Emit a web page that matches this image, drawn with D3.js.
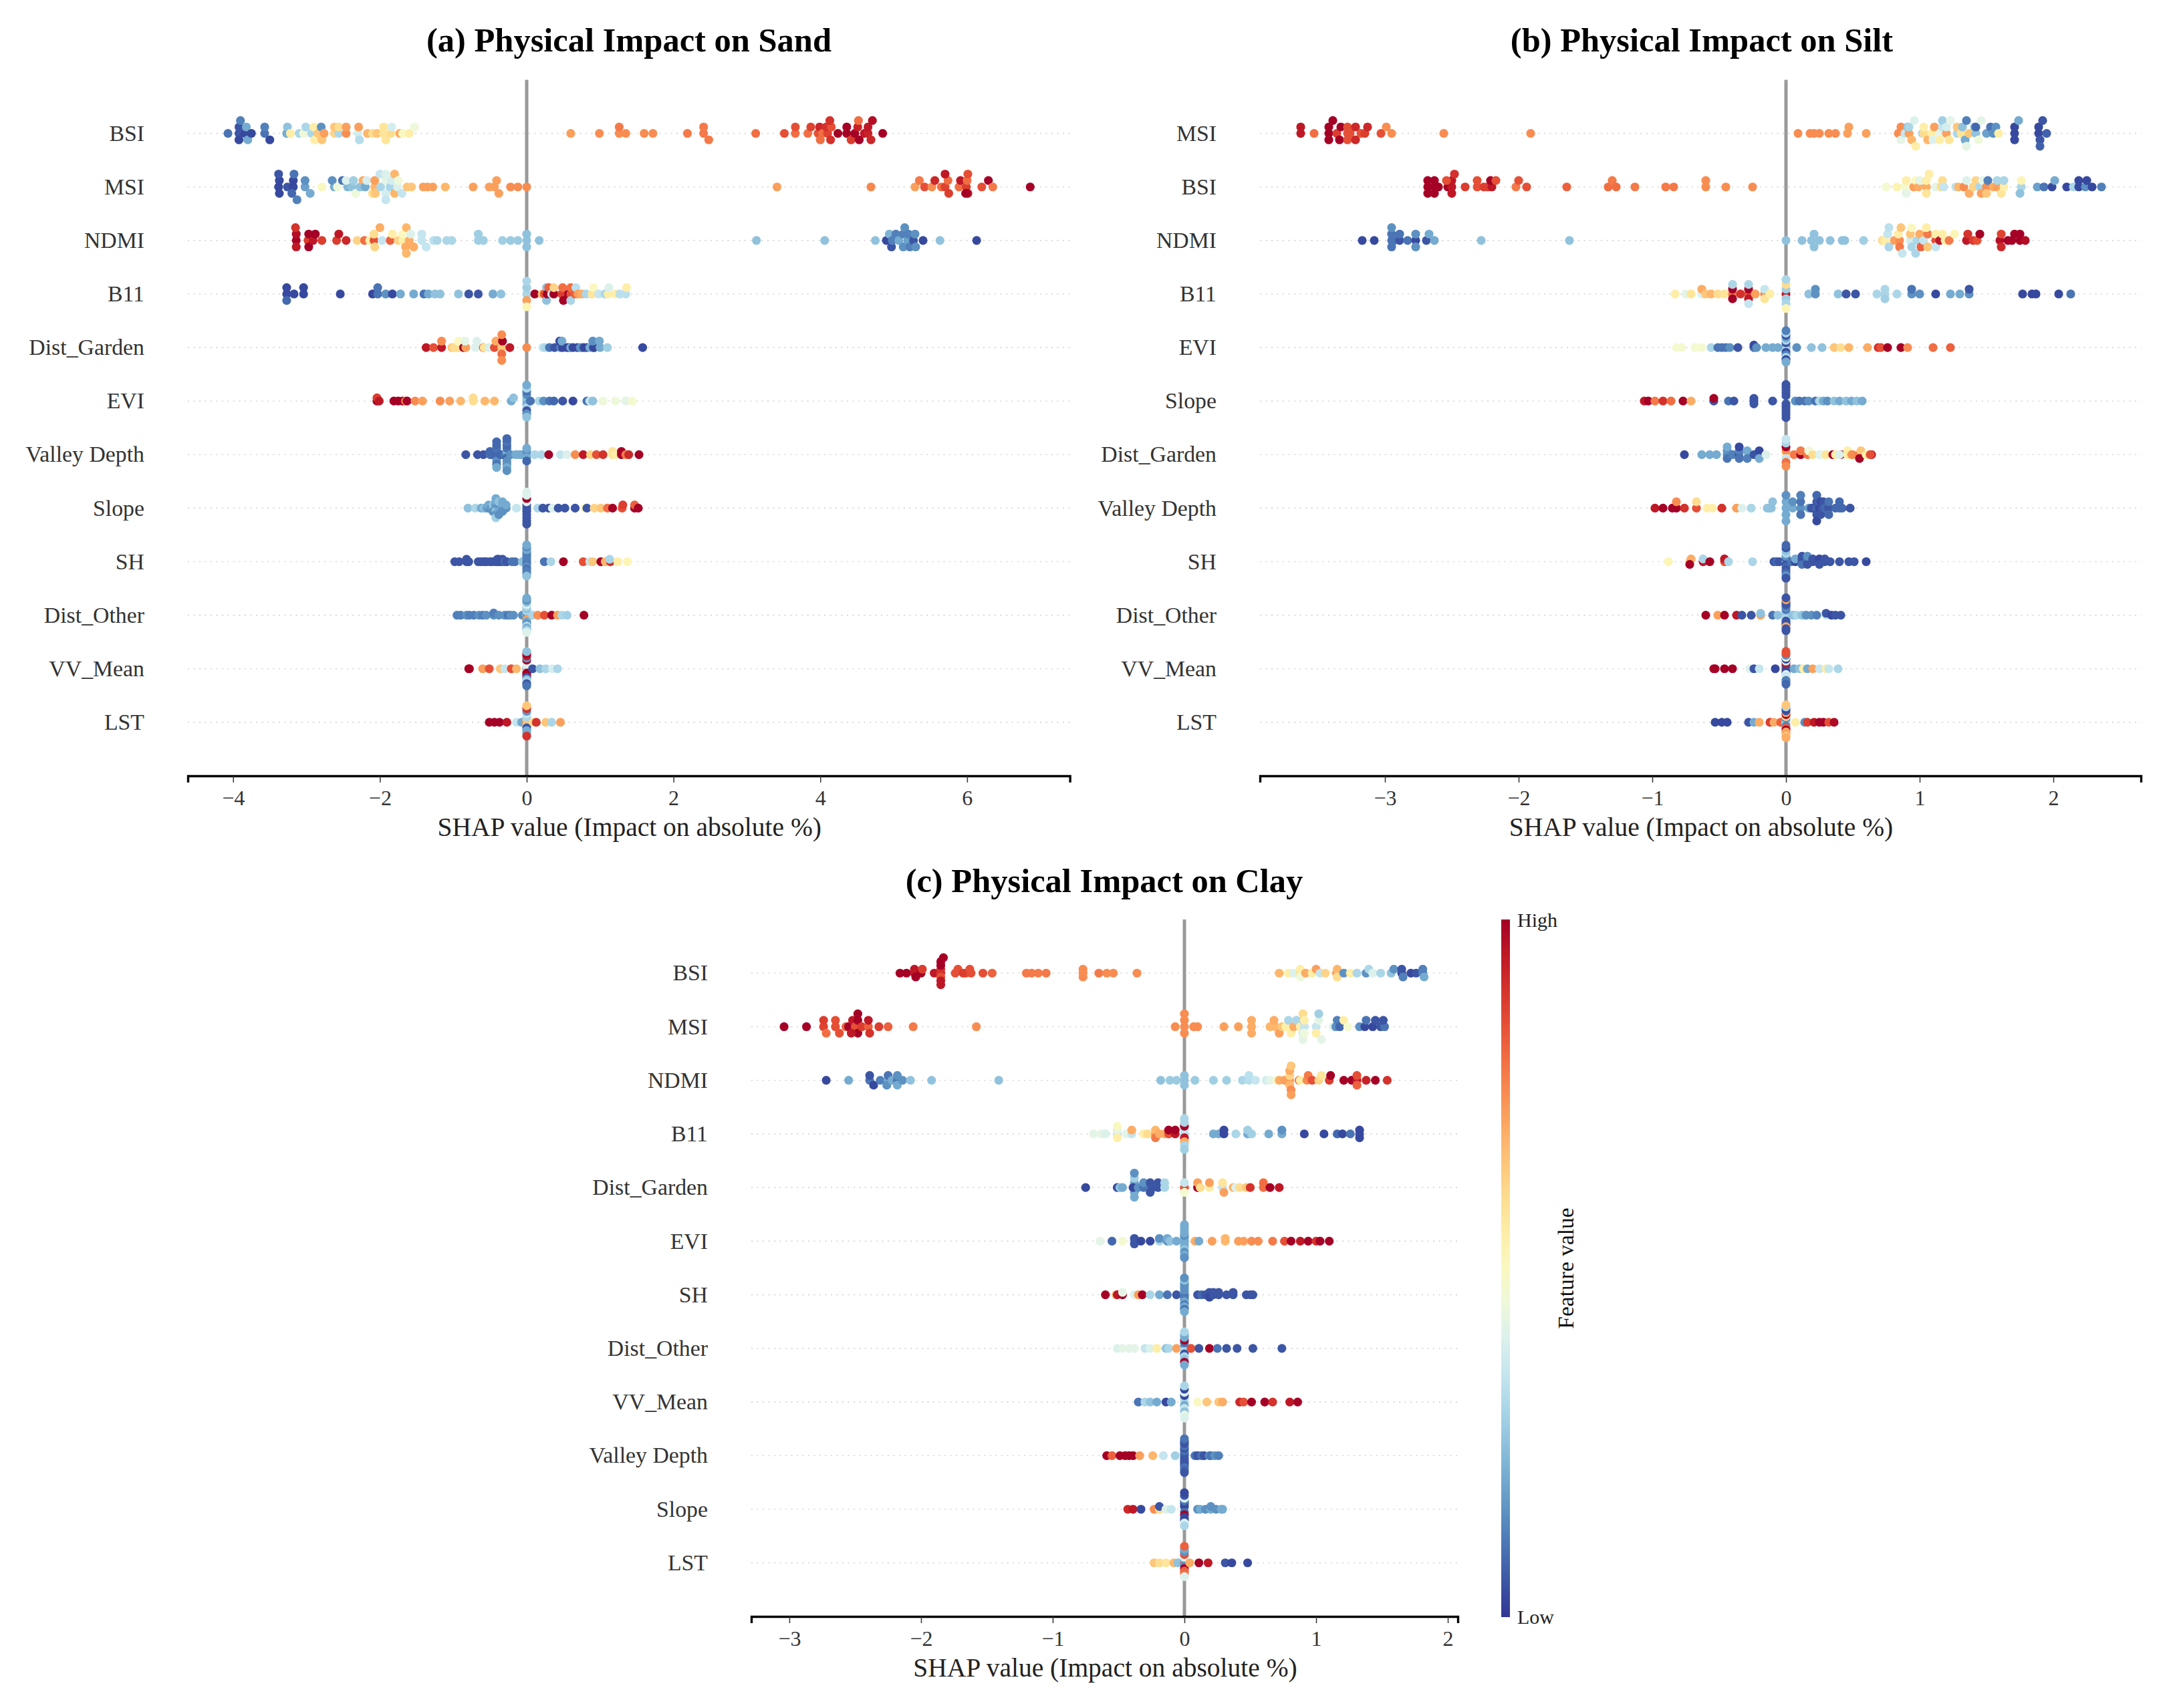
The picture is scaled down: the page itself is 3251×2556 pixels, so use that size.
<!DOCTYPE html>
<html lang="en">
<head>
<meta charset="UTF-8">
<title>SHAP summary: physical impact on sand, silt and clay</title>
<script src="https://d3js.org/d3.v7.min.js"></script>
<style>
  body { margin: 0; background: #fff; }
  text { font-family: "Liberation Serif", "Times New Roman", serif; }
</style>
</head>
<body>
<div id="chart"></div>
<script>
// every point is [SHAP value, feature value 0..1]

// (a) Sand
const sandBSI = [[-4.07,.1],[-3.92,.05],[-3.92,.05],[-3.92,.03],[-3.9,.12],[-3.84,.03],[-3.82,.2],[-3.8,.2],[-3.75,.03],[-3.57,.1],[-3.57,.12],[-3.5,.03],[-3.27,.2],[-3.26,.25],[-3.22,.55],[-3.1,.3],[-3.04,.45],[-3.01,.3],[-2.93,.3],[-2.9,.55],[-2.89,.55],[-2.84,.65],[-2.8,.15],[-2.79,.65],[-2.76,.72],[-2.62,.62],[-2.62,.65],[-2.56,.3],[-2.56,.6],[-2.46,.75],[-2.46,.72],[-2.3,.38],[-2.29,.72],[-2.28,.32],[-2.17,.68],[-2.1,.6],[-2.04,.65],[-1.95,.58],[-1.95,.58],[-1.92,.58],[-1.85,.6],[-1.84,.38],[-1.73,.7],[-1.69,.5],[-1.6,.55],[-1.53,.45],[.6,.72],[.99,.75],[1.26,.75],[1.26,.78],[1.35,.75],[1.6,.75],[1.72,.75],[2.19,.78],[2.41,.78],[2.41,.78],[2.48,.78],[3.12,.8],[3.51,.85],[3.66,.8],[3.66,.85],[3.83,.8],[3.87,.87],[3.97,.85],[3.99,.92],[4,.8],[4.03,.8],[4.1,.87],[4.08,.9],[4.15,.85],[4.14,.9],[4.13,.9],[4.24,1],[4.36,1],[4.36,1],[4.42,.88],[4.47,1],[4.51,.93],[4.53,1],[4.52,.8],[4.6,.95],[4.65,.93],[4.65,.95],[4.69,.92],[4.71,.97],[4.85,1]];
const sandMSI = [[-3.38,.03],[-3.37,.03],[-3.37,.03],[-3.38,.05],[-3.26,.05],[-3.18,.03],[-3.18,.03],[-3.2,.08],[-3.17,.1],[-3.13,.12],[-3.02,.18],[-3.02,.15],[-2.95,.2],[-2.79,.5],[-2.62,.2],[-2.65,.15],[-2.58,.45],[-2.51,.1],[-2.44,.22],[-2.46,.4],[-2.38,.25],[-2.36,.28],[-2.33,.45],[-2.27,.25],[-2.23,.7],[-2.2,.2],[-2.18,.38],[-2.1,.6],[-2.07,.68],[-2.07,.72],[-2.06,.65],[-2,.35],[-1.99,.3],[-1.92,.42],[-1.92,.38],[-1.92,.4],[-1.92,.35],[-1.86,.3],[-1.84,.38],[-1.8,.68],[-1.8,.68],[-1.76,.4],[-1.75,.45],[-1.7,.35],[-1.63,.65],[-1.57,.65],[-1.41,.72],[-1.35,.72],[-1.28,.72],[-1.11,.68],[-.73,.72],[-.51,.72],[-.44,.72],[-.41,.72],[-.38,.72],[-.22,.75],[-.12,.75],[0,.75],[3.41,.72],[4.69,.76],[5.29,.72],[5.35,.78],[5.42,.85],[5.52,.75],[5.56,.92],[5.65,.8],[5.7,.87],[5.74,.8],[5.75,.88],[5.7,.95],[5.89,.8],[5.91,.95],[5.99,.88],[6,.8],[6.01,.97],[5.98,1],[6.01,.85],[6.2,.85],[6.29,1],[6.35,.78],[6.86,1]];
const sandNDMI = [[-3.14,1],[-3.14,.97],[-3.14,.95],[-3.15,.9],[-2.98,.88],[-2.97,1],[-2.97,1],[-2.91,.95],[-2.88,1],[-2.79,.88],[-2.59,.88],[-2.56,.95],[-2.46,.92],[-2.31,.62],[-2.21,.8],[-2.14,.55],[-2.08,.85],[-2.08,.6],[-2.07,.62],[-2,.7],[-1.97,.35],[-1.86,.82],[-1.83,.55],[-1.75,.62],[-1.69,.55],[-1.69,.5],[-1.65,.7],[-1.64,.68],[-1.64,.68],[-1.6,.7],[-1.58,.4],[-1.54,.7],[-1.43,.35],[-1.43,.35],[-1.37,.35],[-1.27,.33],[-1.22,.3],[-1.09,.3],[-1.02,.3],[-.66,.28],[-.66,.28],[-.59,.28],[-.33,.28],[-.22,.27],[-.12,.27],[0,.25],[0,.25],[0,.25],[.17,.25],[3.13,.25],[4.06,.25],[4.75,.25],[4.9,.03],[4.94,.22],[4.97,.05],[4.98,.12],[5.03,.12],[5.07,.2],[5.13,.12],[5.13,.15],[5.15,.15],[5.19,.18],[5.2,.12],[5.22,.12],[5.27,.05],[5.29,.15],[5.3,.15],[5.4,.03],[5.63,.25],[6.13,.03]];
const sandB11 = [[-3.27,.03],[-3.27,.03],[-3.27,.08],[-3.17,.03],[-3.04,.03],[-3.04,.03],[-2.54,.03],[-2.1,.03],[-2.03,.1],[-2.03,.1],[-1.92,.15],[-1.83,.03],[-1.72,.2],[-1.54,.2],[-1.4,.1],[-1.34,.2],[-1.25,.25],[-1.18,.25],[-.93,.25],[-.79,.05],[-.66,.05],[-.46,.2],[-.35,.25],[0,.3],[0,.28],[0,.72],[0,.3],[0,.52],[.11,1],[.21,.65],[.24,.85],[.27,.25],[.27,.25],[.28,1],[.3,.82],[.34,.35],[.37,1],[.37,.62],[.48,.88],[.49,.8],[.5,1],[.57,1],[.6,.85],[.6,.8],[.6,.3],[.66,.82],[.67,.33],[.7,.72],[.75,.7],[.81,.3],[.89,.58],[.91,.5],[.98,.35],[1.07,.3],[1.11,.55],[1.12,.4],[1.21,.55],[1.27,.33],[1.35,.33],[1.36,.55]];
const sandDistGarden = [[-1.37,.95],[-1.27,.85],[-1.16,.95],[-1.16,.75],[-1.02,.65],[-.99,.6],[-.95,.6],[-.92,.6],[-.93,.5],[-.86,1],[-.83,.72],[-.84,.42],[-.7,.4],[-.68,.4],[-.59,.85],[-.58,.58],[-.51,.38],[-.47,.4],[-.44,.85],[-.42,.7],[-.34,.65],[-.33,1],[-.34,.8],[-.34,.75],[-.34,.75],[-.23,.95],[0,.75],[.22,.35],[.25,.3],[.31,.1],[.38,.05],[.46,.12],[.45,.03],[.49,.03],[.48,.2],[.55,.03],[.58,.03],[.6,.2],[.69,.03],[.63,.03],[.75,.12],[.73,.15],[.78,.03],[.82,.03],[.86,.2],[.92,.03],[.91,.03],[.9,.15],[1,.2],[.99,.2],[1.1,.28],[1.58,.03]];
const sandEVI = [[-2.04,1],[-2.04,.88],[-2.01,.95],[-1.81,1],[-1.75,1],[-1.69,1],[-1.65,.75],[-1.63,1],[-1.52,.75],[-1.42,.72],[-1.18,.75],[-1.05,.72],[-.9,.68],[-.73,.6],[-.73,.6],[-.57,.68],[-.44,.68],[-.21,.2],[-.18,.25],[0,.25],[0,.25],[0,.2],[0,.15],[0,.3],[0,.1],[0,.05],[0,.3],[0,.15],[0,.2],[0,.25],[.05,.1],[.17,.3],[.23,.15],[.31,.1],[.37,.08],[.49,.05],[.63,.03],[.82,.1],[.86,.35],[.9,.25],[1.04,.45],[1.21,.45],[1.35,.42],[1.44,.47]];
const sandValley = [[-.83,.05],[-.67,.05],[-.59,.05],[-.5,.1],[-.5,.08],[-.47,.08],[-.44,.08],[-.41,.08],[-.41,.08],[-.41,.08],[-.41,.1],[-.41,.15],[-.41,.08],[-.41,.1],[-.41,.08],[-.41,.2],[-.36,.08],[-.33,.08],[-.3,.1],[-.27,.15],[-.27,.2],[-.27,.08],[-.27,.1],[-.27,.15],[-.27,.08],[-.27,.15],[-.27,.1],[-.27,.2],[-.27,.08],[-.27,.15],[-.22,.15],[-.15,.2],[-.1,.2],[-.07,.2],[0,.2],[0,.15],[0,.2],[0,.2],[0,.08],[.11,.3],[.2,.3],[.3,1],[.46,.35],[.55,.4],[.66,.75],[.77,.95],[.87,.62],[.95,.85],[1.04,.9],[1.17,.58],[1.17,.58],[1.21,.55],[1.29,1],[1.29,1],[1.35,.78],[1.39,.92],[1.53,1]];
const sandSlope = [[-.8,.25],[-.7,.3],[-.62,.2],[-.58,.25],[-.55,.2],[-.52,.15],[-.52,.2],[-.48,.15],[-.46,.2],[-.46,.25],[-.46,.15],[-.42,.2],[-.42,.15],[-.42,.25],[-.42,.2],[-.42,.15],[-.42,.2],[-.42,.28],[-.38,.2],[-.38,.15],[-.38,.2],[-.38,.25],[-.38,.15],[-.33,.15],[-.33,.2],[-.33,.15],[-.33,.2],[-.28,.15],[-.28,.2],[-.14,.35],[0,.05],[0,.05],[0,.05],[0,.4],[0,.05],[0,1],[0,.05],[0,.4],[0,.05],[0,.4],[0,.05],[.15,.3],[.22,.05],[.3,.05],[.35,.4],[.43,.05],[.52,.05],[.66,.05],[.79,.5],[.82,.05],[.92,.62],[1.01,.65],[1.1,.8],[1.17,1],[1.3,.85],[1.31,.88],[1.47,1],[1.47,.82],[1.52,1]];
const sandSH = [[-.98,.05],[-.92,.05],[-.82,.05],[-.82,.05],[-.79,.05],[-.66,.05],[-.62,.05],[-.58,.05],[-.55,.05],[-.5,.05],[-.47,.05],[-.42,.05],[-.4,.05],[-.4,.05],[-.38,.05],[-.38,.05],[-.35,.05],[-.33,.05],[-.33,.05],[-.3,.08],[-.27,.05],[-.2,.1],[-.16,.1],[-.06,.25],[0,.15],[0,.12],[0,.1],[0,.12],[0,.15],[0,.12],[0,.1],[0,.12],[0,.12],[0,.2],[0,.12],[0,.15],[0,.25],[0,.2],[.24,.1],[.33,.3],[.5,1],[.77,.85],[.86,.35],[.9,.65],[1.01,1],[1.07,.68],[1.14,.9],[1.13,.3],[1.24,.55],[1.37,.52]];
const sandDistOther = [[-.95,.12],[-.9,.12],[-.82,.15],[-.78,.12],[-.72,.12],[-.65,.15],[-.6,.12],[-.55,.15],[-.45,.15],[-.45,.12],[-.38,.15],[-.3,.15],[-.25,.1],[-.22,.15],[-.18,.15],[-.06,.15],[0,.3],[0,.2],[0,.15],[0,.3],[0,.72],[0,.25],[0,.2],[0,.3],[0,.15],[0,.4],[0,.3],[0,.25],[0,.2],[0,.15],[0,.3],[0,.2],[0,.4],[.08,.3],[.15,.75],[.24,.85],[.34,1],[.42,.72],[.48,.3],[.55,.28],[.78,1]];
const sandVV = [[-.79,1],[-.78,1],[-.6,.72],[-.51,.85],[-.36,.65],[-.3,.35],[-.21,.85],[-.14,.68],[0,.95],[0,.3],[0,.35],[0,.4],[0,1],[0,.4],[0,1],[0,1],[0,.05],[0,.15],[0,.25],[0,.95],[0,.3],[0,1],[0,.05],[0,.25],[0,.1],[.08,.05],[.18,.25],[.26,.3],[.35,.38],[.42,.3]];
const sandLST = [[-.51,1],[-.44,1],[-.37,1],[-.27,.95],[-.14,.35],[-.07,.2],[0,.75],[0,.65],[0,.65],[0,.3],[0,.05],[0,.35],[0,.2],[0,.15],[0,.2],[0,.9],[0,.9],[0,.65],[.09,.6],[.13,.9],[.26,.65],[.34,.3],[.46,.72]];

// (b) Silt
const siltMSI = [[-3.63,.95],[-3.63,.95],[-3.53,.8],[-3.42,1],[-3.42,1],[-3.42,1],[-3.39,1],[-3.36,.88],[-3.33,1],[-3.34,1],[-3.28,.85],[-3.28,.85],[-3.28,.85],[-3.26,.85],[-3.22,.92],[-3.22,.92],[-3.18,.85],[-3.15,.88],[-3.13,.92],[-3.03,.85],[-2.99,.75],[-2.95,.75],[-2.56,.75],[-1.91,.75],[.09,.75],[.18,.75],[.21,.75],[.25,.75],[.32,.75],[.37,.75],[.46,.72],[.47,.72],[.6,.72],[.84,.75],[.86,.75],[.86,.42],[.89,.35],[.91,.25],[.92,.72],[.92,.3],[.94,.68],[.96,.4],[.97,.55],[1.02,.3],[1.03,.6],[1.03,.55],[1.06,.68],[1.09,.55],[1.11,.72],[1.1,.4],[1.15,.42],[1.17,.35],[1.15,.55],[1.17,.28],[1.2,.72],[1.2,.38],[1.22,.58],[1.23,.42],[1.28,.3],[1.28,.65],[1.31,.58],[1.32,.25],[1.34,.2],[1.35,.12],[1.37,.65],[1.35,.42],[1.41,.25],[1.42,.25],[1.42,.08],[1.44,.45],[1.46,.42],[1.5,.18],[1.53,.1],[1.55,.15],[1.57,.15],[1.59,.55],[1.71,.03],[1.71,.03],[1.71,.03],[1.74,.2],[1.89,.03],[1.89,.03],[1.9,.05],[1.92,.05],[1.95,.07],[1.9,.07]];
const siltBSI = [[-2.68,1],[-2.68,1],[-2.68,1],[-2.63,1],[-2.63,1],[-2.63,1],[-2.6,1],[-2.53,1],[-2.5,.95],[-2.5,.95],[-2.5,.95],[-2.54,.85],[-2.48,.9],[-2.4,.88],[-2.31,.85],[-2.31,.85],[-2.26,.88],[-2.23,.88],[-2.2,.95],[-2.21,1],[-2.17,.85],[-2.02,.78],[-2,.85],[-1.94,.85],[-1.64,.82],[-1.33,.8],[-1.3,.78],[-1.27,.8],[-1.13,.78],[-.9,.78],[-.84,.78],[-.6,.75],[-.6,.75],[-.45,.75],[-.25,.75],[.75,.47],[.83,.53],[.89,.47],[.9,.55],[.9,.42],[.955,.72],[.97,.5],[.99,.7],[1,.42],[1.05,.7],[1.05,.55],[1.05,.58],[1.07,.55],[1.12,.42],[1.16,.6],[1.17,.6],[1.18,.35],[1.27,.33],[1.29,.68],[1.33,.75],[1.35,.4],[1.37,.7],[1.4,.62],[1.42,.62],[1.45,.3],[1.47,.42],[1.46,.72],[1.5,.75],[1.51,.12],[1.5,.65],[1.55,.7],[1.58,.72],[1.58,.3],[1.61,.58],[1.63,.55],[1.63,.3],[1.76,.3],[1.76,.52],[1.75,.25],[1.88,.18],[1.93,.1],[1.99,.03],[2.01,.2],[2.1,.03],[2.15,.3],[2.19,.03],[2.19,.03],[2.24,.15],[2.25,.03],[2.29,.03],[2.36,.12]];
const siltNDMI = [[-3.17,.03],[-3.08,.03],[-2.95,.1],[-2.95,.1],[-2.95,.1],[-2.95,.15],[-2.93,.1],[-2.89,.05],[-2.89,.1],[-2.83,.1],[-2.77,.03],[-2.77,.15],[-2.77,.15],[-2.69,.05],[-2.67,.2],[-2.63,.2],[-2.28,.25],[-1.62,.25],[0,.25],[.12,.25],[.19,.25],[.21,.25],[.21,.25],[.25,.25],[.33,.25],[.42,.25],[.44,.25],[.58,.28],[.72,.6],[.74,.55],[.76,.35],[.77,.3],[.77,.33],[.81,.72],[.85,.75],[.84,.55],[.85,.78],[.86,.65],[.87,.35],[.93,.38],[.93,.65],[.94,.3],[.94,.5],[.97,.3],[.98,.3],[1,.7],[1.01,.82],[1.03,.35],[1.06,.78],[1.06,.65],[1.05,.55],[1.12,.85],[1.12,.55],[1.12,.35],[1.15,.95],[1.17,.55],[1.19,.55],[1.22,.78],[1.26,.52],[1.35,.95],[1.36,.9],[1.4,.88],[1.43,.85],[1.45,1],[1.6,.97],[1.61,.87],[1.61,.92],[1.66,1],[1.69,1],[1.71,1],[1.75,1],[1.75,1],[1.79,.97]];
const siltB11 = [[-.83,.55],[-.75,.42],[-.71,.58],[-.63,.4],[-.63,.7],[-.6,.65],[-.56,.68],[-.51,.6],[-.46,.58],[-.4,.78],[-.4,1],[-.4,1],[-.4,.3],[-.34,.9],[-.28,.85],[-.28,1],[-.28,.95],[-.28,.3],[-.28,.35],[-.23,.72],[-.16,.75],[-.16,.35],[-.16,.58],[-.12,.55],[0,.95],[0,.28],[0,.28],[0,.6],[0,.3],[0,.3],[0,.52],[.17,.25],[.22,.15],[.22,.15],[.39,.25],[.45,.05],[.52,.05],[.68,.3],[.74,.3],[.74,.3],[.74,.28],[.83,.3],[.94,.15],[.94,.1],[1,.15],[1.12,.03],[1.23,.2],[1.3,.2],[1.37,.15],[1.37,.05],[1.77,.03],[1.84,.03],[1.87,.03],[2.04,.03],[2.13,.1]];
const siltEVI = [[-.82,.47],[-.78,.47],[-.68,.47],[-.63,.47],[-.56,.3],[-.51,.1],[-.48,.1],[-.45,.1],[-.42,.15],[-.36,.05],[-.24,.1],[-.24,.03],[-.22,.15],[-.15,.2],[-.1,.2],[-.06,.2],[0,.12],[0,.2],[0,.3],[0,.05],[0,.03],[0,.3],[0,.12],[0,.2],[0,.3],[0,.05],[0,.03],[0,.3],[0,.2],[0,.12],[.08,.15],[.19,.25],[.27,.25],[.36,.65],[.41,.6],[.47,.68],[.61,.7],[.69,.9],[.71,.85],[.76,1],[.86,1],[.91,.75],[1.1,.8],[1.23,.82]];
const siltSlope = [[-1.06,.95],[-1.03,1],[-.98,.78],[-.92,.9],[-.86,.8],[-.77,1],[-.71,.7],[-.54,.05],[-.54,1],[-.43,.1],[-.39,.05],[-.24,.05],[-.24,.05],[-.24,.05],[-.1,.05],[0,.45],[0,.4],[0,.05],[0,.05],[0,.05],[0,.05],[0,.05],[0,.05],[0,.05],[0,.05],[0,.05],[0,.05],[0,.05],[.07,.15],[.1,.1],[.14,.1],[.17,.15],[.22,.1],[.25,.3],[.28,.2],[.31,.15],[.36,.25],[.4,.2],[.45,.25],[.49,.2],[.53,.25],[.57,.2]];
const siltDistGarden = [[-.76,.03],[-.63,.2],[-.57,.2],[-.52,.2],[-.44,.15],[-.44,.15],[-.44,.1],[-.44,.2],[-.4,.12],[-.35,.05],[-.35,.12],[-.35,.1],[-.35,.03],[-.29,.35],[-.29,.2],[-.29,.12],[-.24,.05],[-.2,.05],[-.2,.03],[-.2,.2],[-.15,.4],[0,.55],[0,.75],[0,.35],[0,1],[0,.8],[0,.3],[0,.75],[0,.35],[.06,.78],[.11,1],[.11,.78],[.16,.78],[.17,.45],[.2,.6],[.25,.4],[.28,.42],[.3,.58],[.35,1],[.37,.55],[.41,1],[.4,.4],[.46,.55],[.46,.55],[.49,.72],[.5,.75],[.55,.78],[.56,.65],[.55,1],[.6,.55],[.64,.95],[.63,.85]];
const siltValley = [[-.98,.95],[-.92,1],[-.85,1],[-.82,1],[-.82,.75],[-.76,.9],[-.67,.85],[-.67,.6],[-.59,.55],[-.55,.55],[-.48,.9],[-.37,.72],[-.33,.4],[-.26,.3],[-.14,.25],[-.12,.25],[-.11,.25],[-.1,.25],[0,.2],[0,.2],[0,.2],[0,.15],[0,.2],[.05,.2],[.05,.15],[.11,.15],[.11,.1],[.11,.1],[.11,.12],[.17,.18],[.19,.05],[.2,.05],[.23,.08],[.23,.05],[.23,.05],[.23,.08],[.23,.03],[.25,.03],[.25,.08],[.26,.03],[.26,.03],[.26,.05],[.27,.05],[.28,.05],[.29,.08],[.32,.05],[.32,.1],[.32,.08],[.37,.08],[.4,.08],[.4,.08],[.42,.08],[.48,.05]];
const siltSH = [[-.88,.52],[-.72,.65],[-.71,.7],[-.72,1],[-.62,.95],[-.62,.3],[-.57,1],[-.46,.85],[-.46,.95],[-.43,.3],[-.25,.3],[-.09,.05],[-.07,.08],[-.05,.05],[0,.25],[0,.08],[0,.05],[0,.15],[0,.08],[0,.3],[0,.05],[0,.25],[0,.08],[0,.05],[0,.15],[0,.08],[0,.05],[.04,.1],[.07,.03],[.07,.2],[.12,.05],[.12,.05],[.12,.1],[.12,.05],[.16,.05],[.16,.1],[.16,.05],[.16,.15],[.2,.05],[.2,.05],[.25,.05],[.25,.03],[.25,.05],[.29,.05],[.29,.05],[.33,.05],[.4,.05],[.47,.05],[.51,.05],[.6,.03]];
const siltDistOther = [[-.6,1],[-.51,.72],[-.46,1],[-.37,.95],[-.33,.05],[-.26,.05],[-.19,.72],[-.19,.25],[-.1,.1],[-.06,.25],[0,.28],[0,.3],[0,.3],[0,.25],[0,.3],[0,.1],[0,.05],[0,.15],[0,.05],[0,.08],[0,.05],[0,.05],[0,.7],[0,.05],[0,.05],[0,.72],[0,.05],[0,.05],[.05,.25],[.07,.25],[.08,.3],[.12,.25],[.15,.15],[.19,.15],[.23,.12],[.3,.35],[.3,.05],[.34,.03],[.37,.05],[.41,.05]];
const siltVV = [[-.54,1],[-.53,1],[-.46,1],[-.4,1],[-.27,.4],[-.24,.05],[-.2,.35],[-.08,.03],[0,.95],[0,.88],[0,.03],[0,.03],[0,.03],[0,.95],[0,.4],[0,.38],[0,.35],[0,.03],[0,.38],[0,.45],[0,.12],[0,.15],[0,.12],[0,.85],[0,.08],[0,.85],[.06,.2],[.1,.25],[.13,.55],[.16,.2],[.2,.72],[.25,.35],[.3,.55],[.32,.35],[.39,.3]];
const siltLST = [[-.53,.03],[-.48,.03],[-.44,.03],[-.28,.05],[-.24,.2],[-.2,.7],[-.12,.88],[-.09,.7],[-.04,.82],[0,.6],[0,.3],[0,.3],[0,.15],[0,.12],[0,.62],[0,.82],[0,1],[0,1],[0,.72],[0,.7],[0,.05],[0,.72],[0,.03],[0,.65],[0,.3],[0,.7],[0,.65],[.07,.55],[.14,.15],[.16,.88],[.21,.95],[.25,1],[.28,1],[.32,.85],[.36,.98]];

// (c) Clay
const clayBSI = [[-2.16,1],[-2.11,1],[-2.05,.95],[-2.05,.95],[-2.04,1],[-2,1],[-1.99,.88],[-1.9,.95],[-1.85,.9],[-1.85,.9],[-1.85,.85],[-1.85,1],[-1.85,.95],[-1.85,1],[-1.85,.95],[-1.83,1],[-1.74,.85],[-1.72,.85],[-1.66,.85],[-1.68,.88],[-1.62,.85],[-1.63,.85],[-1.53,.85],[-1.46,.82],[-1.2,.78],[-1.16,.78],[-1.11,.78],[-1.05,.78],[-.77,.75],[-.77,.75],[-.77,.75],[-.65,.78],[-.59,.75],[-.54,.75],[-.36,.75],[.72,.68],[.79,.55],[.83,.4],[.88,.58],[.88,.55],[.88,.45],[.92,.7],[.97,.55],[1,.72],[1.03,.35],[1.07,.62],[1.155,.72],[1.16,.68],[1.16,.6],[1.21,.15],[1.26,.55],[1.31,.3],[1.38,.15],[1.4,.3],[1.43,.4],[1.49,.3],[1.57,.25],[1.59,.15],[1.65,.03],[1.65,.05],[1.66,.12],[1.72,.03],[1.76,.05],[1.81,.12],[1.81,.12],[1.82,.2]];
const clayMSI = [[-3.04,1],[-2.87,1],[-2.74,.87],[-2.74,.88],[-2.72,.8],[-2.65,.85],[-2.65,.85],[-2.62,.85],[-2.57,.82],[-2.55,1],[-2.52,.95],[-2.5,.85],[-2.48,1],[-2.48,1],[-2.48,1],[-2.53,.95],[-2.45,.88],[-2.4,.82],[-2.4,.95],[-2.39,.9],[-2.32,.88],[-2.25,.82],[-2.06,.78],[-1.58,.75],[-.07,.75],[0,.75],[0,.75],[0,.75],[0,.75],[.07,.75],[.1,.75],[.3,.72],[.41,.72],[.51,.7],[.51,.7],[.51,.7],[.65,.68],[.69,.68],[.68,.7],[.72,.72],[.74,.65],[.77,.55],[.79,.3],[.81,.55],[.83,.7],[.85,.3],[.88,.55],[.9,.3],[.9,.38],[.9,.6],[.9,.42],[.91,.35],[.91,.55],[.91,.45],[1,.35],[1.02,.42],[1,.55],[1.02,.28],[1.04,.42],[1.13,.4],[1.15,.15],[1.16,.12],[1.18,.08],[1.21,.55],[1.24,.47],[1.33,.15],[1.37,.03],[1.38,.1],[1.43,.03],[1.45,.05],[1.49,.05],[1.52,.1],[1.51,.05]];
const clayNDMI = [[-2.72,.03],[-2.55,.2],[-2.39,.1],[-2.39,.05],[-2.36,.03],[-2.31,.12],[-2.25,.2],[-2.25,.1],[-2.26,.15],[-2.22,.2],[-2.18,.1],[-2.18,.15],[-2.18,.2],[-2.14,.15],[-2.08,.25],[-1.92,.25],[-1.41,.25],[-.18,.25],[-.11,.27],[-.06,.27],[0,.25],[0,.25],[0,.25],[.08,.27],[.22,.28],[.32,.28],[.44,.3],[.49,.32],[.49,.33],[.54,.35],[.62,.38],[.65,.42],[.7,.48],[.72,.7],[.76,.72],[.8,.72],[.8,.62],[.8,.68],[.8,.7],[.81,.75],[.81,.65],[.81,.72],[.87,.78],[.88,.55],[.93,.75],[.94,.78],[.97,.85],[1.02,.62],[1.04,.58],[1.1,.88],[1.11,1],[1.21,1],[1.27,1],[1.31,.95],[1.31,.85],[1.31,.82],[1.38,.93],[1.45,1],[1.54,.9]];
const clayB11 = [[-.69,.42],[-.63,.42],[-.6,.4],[-.51,.35],[-.51,.42],[-.51,.55],[-.51,.5],[-.44,.42],[-.4,.35],[-.4,.7],[-.31,.55],[-.28,.6],[-.22,.72],[-.22,.68],[-.22,.78],[-.19,.7],[-.15,.7],[-.12,.85],[-.12,1],[-.07,.95],[-.07,1],[0,.3],[0,.35],[0,.95],[0,1],[0,.7],[0,.3],[0,.3],[0,.3],[0,.28],[.22,.2],[.26,.2],[.3,.03],[.3,.03],[.39,.3],[.48,.2],[.48,.28],[.51,.28],[.64,.2],[.74,.2],[.74,.15],[.91,.03],[1.06,.03],[1.16,.08],[1.2,.03],[1.26,.1],[1.33,.05],[1.33,.03],[1.33,.03]];
const clayDistGarden = [[-.75,.03],[-.51,.03],[-.49,.25],[-.47,.2],[-.38,.2],[-.38,.2],[-.38,.2],[-.38,.28],[-.38,.2],[-.38,.15],[-.39,.03],[-.35,.15],[-.31,.1],[-.31,.15],[-.26,.1],[-.26,.05],[-.26,.05],[-.24,.05],[-.2,.05],[-.2,.05],[-.15,.3],[-.15,.3],[0,.85],[0,.35],[0,.47],[.1,1],[.1,.72],[.12,.6],[.19,.55],[.19,.72],[.29,.35],[.29,.58],[.3,.72],[.37,.68],[.39,.4],[.42,.6],[.47,.65],[.5,.9],[.6,.8],[.6,.8],[.65,1],[.72,.95]];
const clayEVI = [[-.64,.42],[-.55,.08],[-.47,.47],[-.38,.2],[-.38,.05],[-.38,.05],[-.33,.03],[-.26,.03],[-.19,.3],[-.19,.15],[-.13,.15],[-.13,.2],[-.11,.25],[-.06,.2],[0,.2],[0,.2],[0,.2],[0,.15],[0,.2],[0,.2],[0,.25],[0,.2],[0,.15],[0,.2],[0,.2],[0,.2],[0,.15],[.08,.7],[.11,.2],[.21,.72],[.31,.68],[.31,.68],[.41,.72],[.45,.72],[.51,.75],[.56,.75],[.67,.78],[.76,.85],[.81,1],[.88,.95],[.94,1],[1,.9],[1.03,1],[1.1,1]];
const claySH = [[-.6,1],[-.52,.65],[-.51,.95],[-.47,1],[-.47,.42],[-.38,.4],[-.35,.72],[-.32,1],[-.26,.3],[-.19,.2],[-.13,.1],[-.06,.05],[0,.15],[0,.15],[0,.1],[0,.15],[0,.12],[0,.15],[0,.2],[0,.15],[0,.12],[0,.15],[0,.2],[0,.25],[0,.1],[0,.15],[0,.2],[.1,.05],[.13,.08],[.16,.05],[.19,.05],[.19,.05],[.19,.03],[.22,.05],[.22,.05],[.26,.05],[.26,.05],[.32,.05],[.37,.05],[.37,.05],[.47,.05],[.5,.05],[.52,.05]];
const clayDistOther = [[-.51,.4],[-.47,.42],[-.42,.42],[-.38,.42],[-.3,.35],[-.26,.4],[-.21,.55],[-.14,.25],[-.12,.3],[-.06,.72],[0,.4],[0,.2],[0,.3],[0,.1],[0,.05],[0,1],[0,.3],[0,.2],[0,.25],[0,.2],[0,1],[0,.3],[0,.2],[.05,.85],[.11,.05],[.19,1],[.25,.1],[.32,.05],[.4,.05],[.52,.05],[.74,.05]];
const clayVV = [[-.35,.1],[-.3,.3],[-.26,.25],[-.21,.2],[-.14,.03],[-.1,.2],[0,.4],[0,.3],[0,.2],[0,.03],[0,.35],[0,.4],[0,.25],[0,.03],[0,.42],[0,.3],[0,.4],[.1,.5],[.17,.65],[.26,.65],[.29,.7],[.42,.92],[.45,.85],[.51,1],[.61,1],[.67,.9],[.8,.95],[.86,1]];
const clayValley = [[-.59,1],[-.55,.82],[-.49,1],[-.45,1],[-.42,1],[-.39,1],[-.34,.72],[-.24,.68],[-.16,.35],[-.07,.28],[0,.15],[0,.05],[0,.05],[0,.1],[0,.05],[0,.05],[0,.05],[0,.1],[0,.05],[0,.05],[0,.1],[0,.05],[0,.08],[0,.1],[0,.05],[.08,.1],[.1,.05],[.13,.1],[.15,.05],[.19,.15],[.2,.1],[.23,.15],[.26,.12]];
const claySlope = [[-.43,.92],[-.39,.95],[-.33,.03],[-.23,.75],[-.19,.6],[-.19,.05],[-.14,.4],[-.1,.35],[0,.4],[0,.03],[0,.1],[0,.03],[0,1],[0,.1],[0,.03],[0,.4],[0,.03],[0,.05],[0,.4],[0,.03],[0,.3],[.1,.15],[.12,.2],[.16,.15],[.2,.2],[.2,.15],[.24,.15],[.28,.2],[.29,.2]];
const clayLST = [[-.23,.65],[-.19,.6],[-.14,.58],[-.08,.68],[-.05,.25],[0,.85],[0,.2],[0,.15],[0,.4],[0,1],[0,.85],[0,.82],[0,.15],[0,.8],[0,.2],[0,.4],[0,.82],[.04,.7],[.11,1],[.18,.95],[.31,.05],[.36,.03],[.48,.03]];

const sandRows = ["BSI","MSI","NDMI","B11","Dist_Garden","EVI","Valley Depth","Slope","SH","Dist_Other","VV_Mean","LST"];
const siltRows = ["MSI","BSI","NDMI","B11","EVI","Slope","Dist_Garden","Valley Depth","SH","Dist_Other","VV_Mean","LST"];
const clayRows = ["BSI","MSI","NDMI","B11","Dist_Garden","EVI","SH","Dist_Other","VV_Mean","Valley Depth","Slope","LST"];

const sandSeries = [sandBSI,sandMSI,sandNDMI,sandB11,sandDistGarden,sandEVI,sandValley,sandSlope,sandSH,sandDistOther,sandVV,sandLST];
const siltSeries = [siltMSI,siltBSI,siltNDMI,siltB11,siltEVI,siltSlope,siltDistGarden,siltValley,siltSH,siltDistOther,siltVV,siltLST];
const claySeries = [clayBSI,clayMSI,clayNDMI,clayB11,clayDistGarden,clayEVI,claySH,clayDistOther,clayVV,clayValley,claySlope,clayLST];

const sandTicks = [-4,-2,0,2,4,6];
const siltTicks = [-3,-2,-1,0,1,2];
const clayTicks = [-3,-2,-1,0,1,2];

const width = 3251, height = 2556;
const svg = d3.select("#chart").append("svg")
  .attr("width", width).attr("height", height);

const color = t => d3.interpolateRdYlBu(1 - t);

// same stacking as shap's beeswarm: 100 bins, alternate up and down inside a bin
function swarm(points, rowHeight) {
  const vals = points.map(d => d[0]);
  const lo = d3.min(vals), hi = d3.max(vals);
  const quant = vals.map(v => Math.round(100 * (v - lo) / (hi - lo + 1e-8)));
  const order = d3.range(points.length).sort((a, b) => quant[a] - quant[b] || a - b);
  const ys = new Array(points.length).fill(0);
  let layer = 0, lastBin = -1;
  order.forEach(i => {
    if (quant[i] !== lastBin) layer = 0;
    ys[i] = Math.ceil(layer / 2) * (layer % 2 * 2 - 1);
    layer += 1;
    lastBin = quant[i];
  });
  const top = d3.max(ys.map(Math.abs));
  const k = 0.36 * rowHeight / (top + 1);
  return ys.map(y => -y * k);
}

function panel(opts) {
  const x = d3.scaleLinear().domain(opts.domain).range(opts.range);
  const y = d3.scaleLinear().domain([-1, opts.rows.length]).range(opts.yRange);
  const rowHeight = y(1) - y(0);
  const g = svg.append("g");

  g.selectAll(".grid").data(opts.rows).enter().append("line")
    .attr("x1", opts.range[0]).attr("x2", opts.range[1])
    .attr("y1", (d, i) => y(i)).attr("y2", (d, i) => y(i))
    .attr("stroke", "#d4d4d4").attr("stroke-width", 1.6)
    .attr("stroke-dasharray", "2 6.5");

  g.append("line")
    .attr("x1", x(0)).attr("x2", x(0))
    .attr("y1", opts.yRange[0]).attr("y2", opts.yRange[1])
    .attr("stroke", "#999").attr("stroke-width", 5);

  opts.series.forEach((points, i) => {
    const off = swarm(points, rowHeight);
    g.append("g").selectAll("circle").data(points).enter().append("circle")
      .attr("cx", d => x(d[0]))
      .attr("cy", (d, j) => y(i) + off[j])
      .attr("r", 6.6)
      .attr("fill", d => color(d[1]));
  });

  g.selectAll(".rowlabel").data(opts.rows).enter().append("text")
    .attr("x", opts.range[0] - 65).attr("y", (d, i) => y(i))
    .attr("dy", "0.33em").attr("text-anchor", "end")
    .attr("font-size", 33.8).attr("fill", "#333").text(d => d);

  const axis = g.append("g")
    .attr("transform", `translate(0,${opts.yRange[1]})`)
    .call(d3.axisBottom(x).tickValues(opts.ticks).tickSize(10).tickPadding(11)
      .tickFormat(d => String(d).replace("-", "\u2212")));
  axis.select(".domain").attr("stroke", "#000").attr("stroke-width", 3.4);
  axis.selectAll(".tick line").attr("stroke", "#333").attr("stroke-width", 1.5);
  axis.selectAll("text").attr("font-size", 32)
    .attr("font-family", '"Liberation Serif", serif').attr("fill", "#333");

  g.append("text")
    .attr("x", (opts.range[0] + opts.range[1]) / 2 + 1).attr("y", opts.yRange[1] + 77)
    .attr("dy", "0.33em").attr("text-anchor", "middle")
    .attr("font-size", 39.5).attr("fill", "#222")
    .text("SHAP value (Impact on absolute %)");

  g.append("text")
    .attr("x", opts.titleX).attr("y", opts.titleY)
    .attr("dy", "0.33em").attr("text-anchor", "middle")
    .attr("font-size", 50.5).attr("font-weight", "bold").attr("fill", "#000")
    .text(opts.title);
}

panel({ title: "(a) Physical Impact on Sand", rows: sandRows, series: sandSeries, ticks: sandTicks,
  domain: [-4.617, 7.40], range: [281, 1600.6], yRange: [119.5, 1161], titleX: 941, titleY: 60 });
panel({ title: "(b) Physical Impact on Silt", rows: siltRows, series: siltSeries, ticks: siltTicks,
  domain: [-3.935, 2.655], range: [1885, 3203], yRange: [119.5, 1161], titleX: 2546, titleY: 60 });
panel({ title: "(c) Physical Impact on Clay", rows: clayRows, series: claySeries, ticks: clayTicks,
  domain: [-3.289, 2.076], range: [1124, 2181], yRange: [1376, 2419], titleX: 1652, titleY: 1318 });

// colour bar
const gradient = svg.append("defs").append("linearGradient")
  .attr("id", "featureValue").attr("x1", 0).attr("x2", 0).attr("y1", 1).attr("y2", 0);
gradient.selectAll("stop").data(d3.range(0, 1.001, 0.05)).enter().append("stop")
  .attr("offset", d => d).attr("stop-color", d => color(d));
svg.append("rect").attr("x", 2246).attr("y", 1376).attr("width", 13).attr("height", 1044)
  .attr("fill", "url(#featureValue)");
svg.append("text").attr("x", 2270).attr("y", 1377).attr("dy", "0.33em")
  .attr("font-size", 30).attr("fill", "#222").text("High");
svg.append("text").attr("x", 2270).attr("y", 2420).attr("dy", "0.33em")
  .attr("font-size", 30).attr("fill", "#222").text("Low");
svg.append("text").attr("transform", "translate(2343,1898) rotate(-90)")
  .attr("dy", "0.33em").attr("text-anchor", "middle")
  .attr("font-size", 33.5).attr("fill", "#111").text("Feature value");
</script>
</body>
</html>
